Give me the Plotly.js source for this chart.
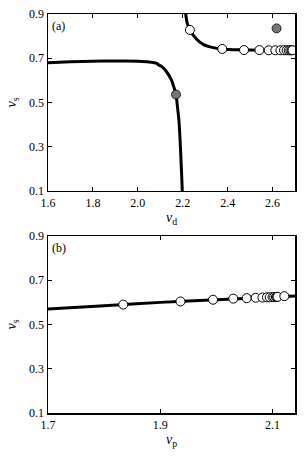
<!DOCTYPE html>
<html><head><meta charset="utf-8">
<script src="https://cdn.plot.ly/plotly-3.0.1.min.js"></script>
<style>html,body{margin:0;padding:0;background:#fff}</style>
</head><body><div id="g" style="width:304px;height:457px"></div>
<script>
// Panel (a): nu_d vs nu_s
const aLowerX = [1.6, 1.7, 1.8, 1.9, 2.0, 2.05, 2.085, 2.09, 2.11, 2.128, 2.15, 2.16, 2.17, 2.175, 2.183, 2.189, 2.195, 2.198];
const aLowerY = [0.680, 0.684, 0.687, 0.688, 0.686, 0.683, 0.677, 0.672, 0.660, 0.639, 0.601, 0.571, 0.536, 0.495, 0.42, 0.314, 0.178, 0.1];
const aUpperX = [2.213, 2.22, 2.232, 2.262, 2.291, 2.336, 2.376, 2.45, 2.55, 2.65, 2.7];
const aUpperY = [0.9, 0.858, 0.828, 0.786, 0.763, 0.748, 0.742, 0.738, 0.736, 0.735, 0.735];
const aOpenX = [2.232, 2.376, 2.473, 2.5415, 2.583, 2.6125, 2.635, 2.651, 2.663, 2.672, 2.679, 2.685, 2.689];
const aOpenY = [0.828, 0.742, 0.737, 0.737, 0.736, 0.736, 0.736, 0.736, 0.736, 0.736, 0.736, 0.736, 0.736];
const aFilledX = [2.17, 2.618];
const aFilledY = [0.536, 0.835];
// Panel (b): nu_p vs nu_s
const bLineX = [1.7, 1.8, 1.9, 2.0, 2.1, 2.14];
const bLineY = [0.570, 0.585, 0.600, 0.612, 0.624, 0.629];
const bOpenX = [1.834, 1.936, 1.994, 2.030, 2.054, 2.070, 2.082, 2.090, 2.095, 2.100, 2.103, 2.106, 2.108, 2.109, 2.121];
const bOpenY = [0.590, 0.604, 0.612, 0.617, 0.619, 0.621, 0.622, 0.623, 0.623, 0.624, 0.624, 0.624, 0.625, 0.625, 0.628];
const yTicks = [0.1, 0.3, 0.5, 0.7, 0.9];
const aXTicks = [1.6, 1.8, 2.0, 2.2, 2.4, 2.6];
const bXTicks = [1.7, 1.9, 2.1];

const lineStyle = {color: '#000', width: 3};
const openMarker = {size: 9, color: '#fff', line: {color: '#000', width: 1}};
const filledMarker = {size: 9, color: '#777', line: {color: '#000', width: 0.8}};

const data = [
  {x: aLowerX, y: aLowerY, mode: 'lines', line: lineStyle, xaxis: 'x', yaxis: 'y'},
  {x: aUpperX, y: aUpperY, mode: 'lines', line: lineStyle, xaxis: 'x', yaxis: 'y'},
  {x: aOpenX, y: aOpenY, mode: 'markers', marker: openMarker, xaxis: 'x', yaxis: 'y'},
  {x: aFilledX, y: aFilledY, mode: 'markers', marker: filledMarker, xaxis: 'x', yaxis: 'y'},
  {x: bLineX, y: bLineY, mode: 'lines', line: lineStyle, xaxis: 'x2', yaxis: 'y2'},
  {x: bOpenX, y: bOpenY, mode: 'markers', marker: openMarker, xaxis: 'x2', yaxis: 'y2'}
];
data.forEach(t => { t.showlegend = false; t.hoverinfo = 'skip'; if (t.mode==='lines') t.line = Object.assign({}, t.line, {shape: 'spline', smoothing: 0.5}); });

const FAM = 'Liberation Serif';
const font = {family: FAM, size: 12, color: '#000'};
const titleFont = {family: FAM, size: 14, color: '#000'};
const axBase = {
  showgrid: false, zeroline: false, showline: true, mirror: 'ticks', linecolor: '#000', linewidth: 1.5,
  ticks: 'inside', ticklen: 4, tickwidth: 1, tickcolor: '#000', tickfont: font
};
const layout = {
  width: 304, height: 457,
  margin: {l: 48, r: 9, t: 14, b: 44},
  paper_bgcolor: '#fff', plot_bgcolor: '#fff',
  font: font,
  xaxis: Object.assign({}, axBase, {domain: [0, 1], range: [1.6, 2.7], tickvals: aXTicks, ticktext: aXTicks.map(v => v.toFixed(1)), anchor: 'y',
    title: {text: '<i>ν</i><sub>d</sub>', font: titleFont, standoff: 2}}),
  yaxis: Object.assign({}, axBase, {domain: [0.5564, 1], range: [0.1, 0.9], tickvals: yTicks, ticktext: yTicks.map(v => v.toFixed(1)), anchor: 'x',
    title: {text: '<i>ν</i><sub>s</sub>', font: titleFont, standoff: 9}}),
  xaxis2: Object.assign({}, axBase, {domain: [0, 1], range: [1.7, 2.14], tickvals: bXTicks, ticktext: bXTicks.map(v => v.toFixed(1)), anchor: 'y2',
    title: {text: '<i>ν</i><sub>p</sub>', font: titleFont, standoff: 2}}),
  yaxis2: Object.assign({}, axBase, {domain: [0, 0.4436], range: [0.1, 0.9], tickvals: yTicks, ticktext: yTicks.map(v => v.toFixed(1)), anchor: 'x2',
    title: {text: '<i>ν</i><sub>s</sub>', font: titleFont, standoff: 9}}),
  annotations: [
    {text: '(a)', xref: 'x domain', yref: 'y domain', x: 0.01, y: 0.985, xanchor: 'left', yanchor: 'top', showarrow: false, font: font},
    {text: '(b)', xref: 'x2 domain', yref: 'y2 domain', x: 0.01, y: 0.985, xanchor: 'left', yanchor: 'top', showarrow: false, font: font}
  ]
};
Plotly.newPlot('g', data, layout, {staticPlot: true, displayModeBar: false});
</script></body></html>
